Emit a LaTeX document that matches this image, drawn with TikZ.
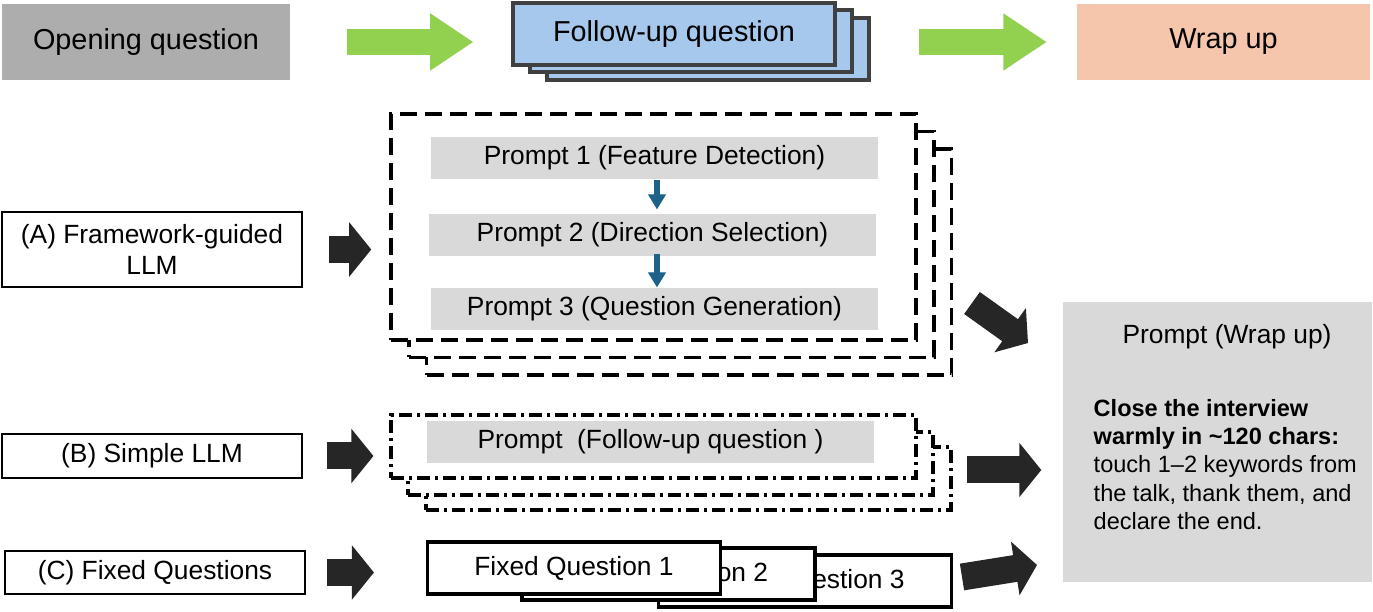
\documentclass[tikz,border=0pt]{standalone}
\usepackage{fontspec}
\setmainfont{Liberation Sans}
\usetikzlibrary{arrows.meta,positioning}

\definecolor{boxgray}{RGB}{173,173,173}
\definecolor{promptgray}{RGB}{217,217,217}
\definecolor{fupblue}{RGB}{166,200,236}
\definecolor{fupedge}{RGB}{64,64,64}
\definecolor{wrappeach}{RGB}{246,198,172}
\definecolor{arrowgreen}{RGB}{146,208,80}
\definecolor{arrowdark}{RGB}{38,38,38}
\definecolor{stepblue}{RGB}{30,98,138}

\tikzset{
  topbox/.style={minimum height=0.76cm, inner sep=0pt, font=\fontsize{8.2}{10}\selectfont},
  fupbox/.style={draw=fupedge, line width=1.1pt, fill=fupblue, minimum width=3.22cm, minimum height=0.62cm, inner sep=0pt},
  leftbox/.style={draw, line width=0.6pt, fill=white, minimum width=3cm, inner sep=0pt, align=center, font=\fontsize{7.5}{9}\selectfont},
  dashbox/.style={draw, line width=1pt, dash pattern=on 0.17cm off 0.08cm, fill=white, minimum width=5.25cm, minimum height=2.26cm, inner sep=0pt},
  dotbox/.style={draw, line width=0.9pt, dash pattern=on 0.13cm off 0.05cm on 0.03cm off 0.05cm, fill=white, minimum width=5.25cm, minimum height=0.63cm, inner sep=0pt},
  promptbox/.style={fill=promptgray, minimum width=4.47cm, minimum height=0.42cm, inner sep=0pt, font=\fontsize{7.5}{9}\selectfont},
  fixbox/.style={draw, line width=0.9pt, fill=white, minimum width=2.93cm, minimum height=0.52cm, inner sep=0pt, font=\fontsize{7.5}{9}\selectfont},
  greenarrow/.style={line width=0.26cm, arrowgreen, -{Triangle[length=0.43cm,width=0.57cm,line width=0.6pt]}},
  blockarrow/.style={line width=0.27cm, arrowdark, -{Triangle[length=0.22cm,width=0.54cm,line width=0.6pt]}},
  stepdown/.style={line width=0.06cm, stepblue, -{Triangle[length=0.15cm,width=0.18cm,line width=0.4pt]}},
}

\begin{document}
\begin{tikzpicture}
  \useasboundingbox (0,0) rectangle (13.73,6.12);
  % top row
  \node[topbox, fill=boxgray, minimum width=2.88cm] (open) at (1.46,5.70) {Opening question};
  \node[fupbox] (fup3) at (7.08,5.63) {};
  \node[fupbox] (fup2) at (6.91,5.71) {};
  \node[fupbox, font=\fontsize{8.2}{10}\selectfont] (fup1) at (6.74,5.78) {Follow-up question};
  \node[topbox, fill=wrappeach, minimum width=2.93cm] (wrap) at (12.235,5.70) {Wrap up};
  \draw[greenarrow, shorten <=0.56cm, shorten >=0.38cm] (open.east) -- (open.east -| fup1.west);
  \draw[greenarrow, shorten <=0.48cm, shorten >=0.30cm] (wrap.west -| fup3.east) -- (wrap.west);

  % (A) framework-guided
  \node[dashbox] (fa3) at (6.89,3.50) {};
  \node[dashbox] (fa2) at (6.715,3.675) {};
  \node[dashbox] (fa1) at (6.535,3.85) {};
  \node[promptbox] (p1) at (6.545,4.54) {Prompt 1 (Feature Detection)};
  \node[promptbox] (p2) at (6.525,3.77) {Prompt 2 (Direction Selection)};
  \node[promptbox] (p3) at (6.545,3.03) {Prompt 3 (Question Generation)};
  \draw[stepdown, shorten >=0.04cm] ([xshift=0.025cm]p1.south) -- ([xshift=0.025cm]p1.south |- p2.north);
  \draw[stepdown, shorten <=-0.03cm] ([xshift=0.045cm]p2.south) -- ([xshift=0.045cm]p2.south |- p3.north);

  % (B) simple
  \node[dotbox] (fb3) at (6.885,1.335) {};
  \node[dotbox] (fb2) at (6.705,1.485) {};
  \node[dotbox] (fb1) at (6.535,1.655) {};
  \node[promptbox] (pb) at (6.505,1.70) {Prompt\ \ (Follow-up question\ )};

  % (C) fixed
  \node[fixbox] (q3) at (8.05,0.31) {Fixed Question 3};
  \node[fixbox] (q2) at (6.685,0.38) {Fixed Question 2};
  \node[fixbox] (q1) at (5.74,0.44) {Fixed Question 1};

  % conditions
  \node[leftbox, minimum height=0.75cm] (ta) at (1.52,3.625) {(A) Framework-guided\\LLM};
  \node[leftbox, minimum height=0.44cm] (tb) at (1.52,1.56) {(B) Simple LLM};
  \node[leftbox, minimum height=0.43cm] (tc) at (1.55,0.395) {(C) Fixed Questions};
  \draw[blockarrow, shorten <=0.26cm, shorten >=0.18cm] (ta.east) -- (ta.east -| fa1.west);
  \draw[blockarrow, shorten <=0.24cm, shorten >=0.16cm] (tb.east) -- (tb.east -| fb1.west);
  \draw[blockarrow, shorten <=0.21cm, shorten >=0.52cm] (tc.east) -- (tc.east -| q1.west);

  % wrap-up prompt
  \node[fill=promptgray, minimum width=3.09cm, minimum height=2.80cm, inner sep=0pt] (wp) at (12.175,1.70) {};
  \node[font=\fontsize{7.5}{9}\selectfont] (wptitle) at (12.27,2.75) {Prompt (Wrap up)};
  \node[anchor=north west, inner sep=0pt, align=left, font=\fontsize{6.7}{8}\selectfont] (wpbody) at (10.93,2.13)
    {\textbf{Close the interview}\\ \textbf{warmly in \textasciitilde120 chars:}\\ touch 1--2 keywords from\\ the talk, thank them, and\\ declare the end.};
  \coordinate (aout) at (9.72,3.09);
  \coordinate (ain) at (10.28,2.69);
  \coordinate (bout) at (9.67,1.42);
  \coordinate (cout) at (9.62,0.35);
  \coordinate (cin) at (10.37,0.47);
  \draw[blockarrow] (aout) -- (ain);
  \draw[blockarrow, shorten >=0.21cm] (bout) -- (bout -| wp.west);
  \draw[blockarrow] (cout) -- (cin);
\end{tikzpicture}
\end{document}
